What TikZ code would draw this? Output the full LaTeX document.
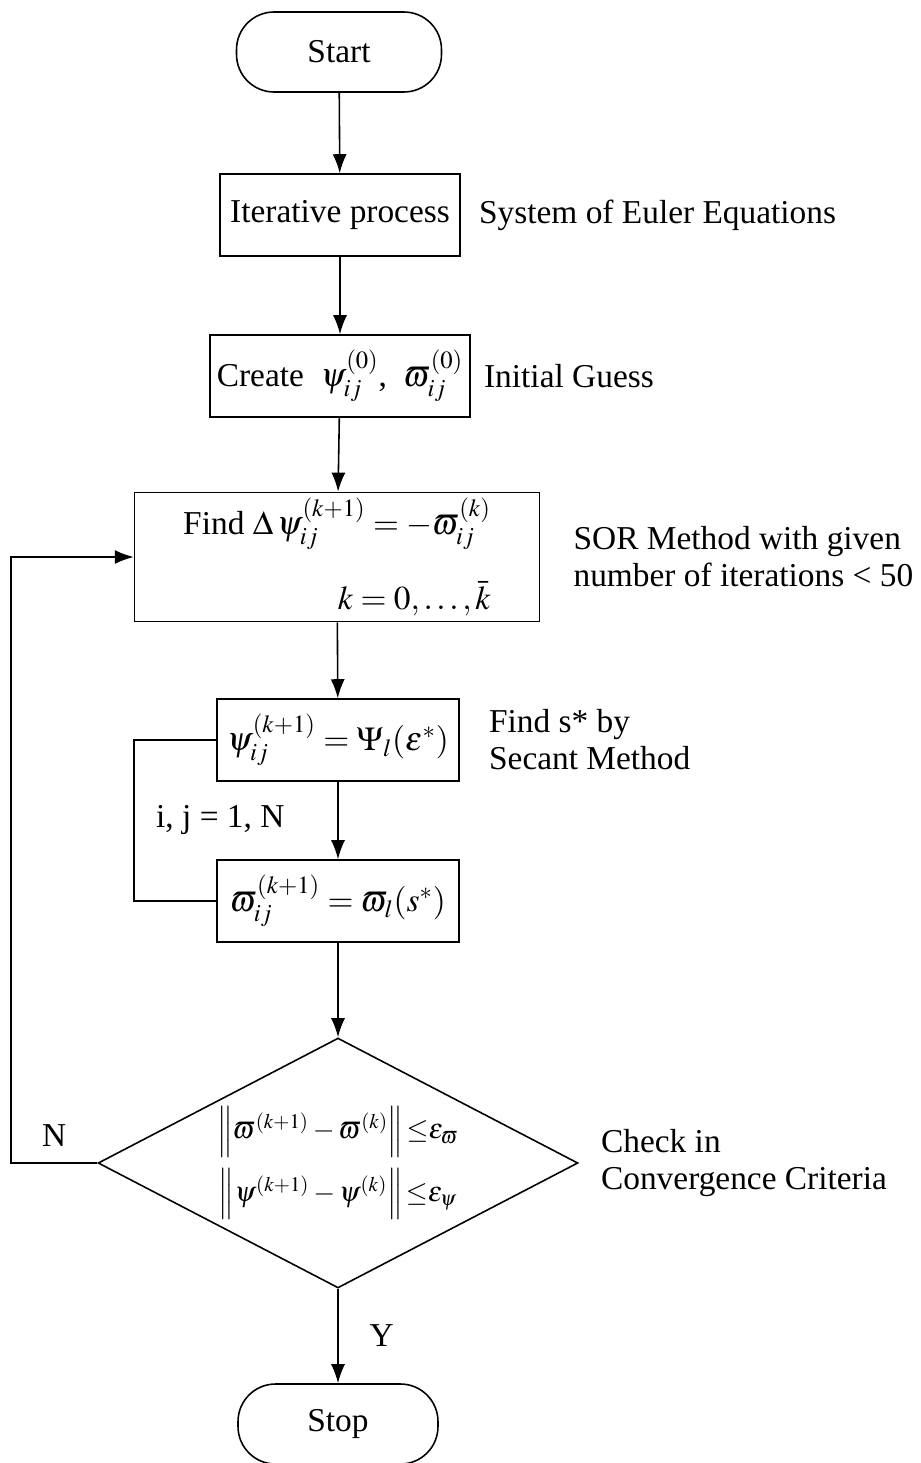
\documentclass[tikz,border=0pt]{standalone}
\usepackage{mathptmx}
\usepackage{fontspec}
\setmainfont{Liberation Serif}
\usetikzlibrary{arrows.meta, positioning, shapes.geometric}

\begin{document}
\begin{tikzpicture}[
    x=0.02cm, y=-0.02cm,
    every node/.style={font=\fontsize{19}{21}\selectfont},
    terminal/.style={
        draw, line width=0.9pt, rounded corners=0.75cm,
        minimum width=4.1cm, minimum height=1.6cm
    },
    procbox/.style={
        draw, line width=0.9pt, minimum height=1.64cm
    },
    decision/.style={
        draw, line width=0.9pt, diamond, inner sep=0pt,
        minimum width=9.6cm, minimum height=5cm
    },
    sidenote/.style={
        inner sep=0pt, align=left
    },
    flowline/.style={
        line width=0.9pt, -{Latex[length=3.8mm, width=2.8mm]}
    },
    loopline/.style={
        line width=0.9pt
    },
]

\useasboundingbox (0,0) rectangle (920,1463);

% === Main column ===
\node[terminal] (start) at (339,52) {Start};
\node[procbox, minimum width=4.8cm] (iter) at (340,215) {Iterative process};
\node[procbox, minimum width=5.2cm] (create) at (340,376)
    {Create \ $\psi_{ij}^{(0)}$, \ $\varpi_{ij}^{(0)}$};
\node[procbox, minimum width=8.1cm, minimum height=2.36cm, align=right] (find) at (337,557)
    {Find $\Delta\,\psi_{ij}^{(k+1)} = -\varpi_{ij}^{(k)}$\\[0.6cm] $k = 0,\ldots,\bar{k}$};
\node[procbox, minimum width=4.84cm] (psibox) at (338,740)
    {$\psi_{ij}^{(k+1)} = \Psi_{l}(\varepsilon^{*})$};
\node[procbox, minimum width=4.84cm] (omegabox) at (338,901)
    {$\varpi_{ij}^{(k+1)} = \varpi_{l}(s^{*})$};
\node[decision] (check) at (338,1163) {};
\node[align=center, font=\fontsize{16}{19}\selectfont] (checktext) at (check.center)
    {$\left\|\varpi^{(k+1)} - \varpi^{(k)}\right\|{\le}\varepsilon_{\varpi}$\\[0.2cm]
     $\left\|\psi^{(k+1)} - \psi^{(k)}\right\|{\le}\varepsilon_{\psi}$};
\node[terminal, minimum width=4.0cm] (stop) at (338,1424) {Stop};

% === Side notes ===
\node[sidenote, right=0.36cm of iter] (euler) {System of Euler Equations};
\node[sidenote, right=0.26cm of create] (guess) {Initial Guess};
\node[sidenote, right=0.66cm of find] (sor) {SOR Method with given\\number of iterations < 50};
\node[sidenote, right=0.58cm of psibox] (secant) {Find s* by\\Secant Method};
\node[sidenote, right=0.44cm of check] (criteria) {Check in\\Convergence Criteria};

% === Flow ===
\draw[flowline] (start) -- (iter);
\draw[flowline] (iter) -- (create);
\draw[flowline] (create) -- (find);
\draw[flowline] (find) -- (psibox);
\draw[flowline] (psibox) -- (omegabox);
\draw[flowline] (omegabox) -- (check);
\draw[flowline] (check) -- node[right=0.5cm] (yes) {Y} (stop);

% inner loop over grid points
\draw[loopline] (psibox.west) -- ++(-82,0) |- (omegabox.west);
\node[anchor=west] (ijlabel) at (150,820) {i, j = 1, N};

% outer loop back to SOR step
\draw[flowline] (check.west) -- node[above=0.2cm] (no) {N} ++(-86,0) |- (find.west);

\end{tikzpicture}
\end{document}
